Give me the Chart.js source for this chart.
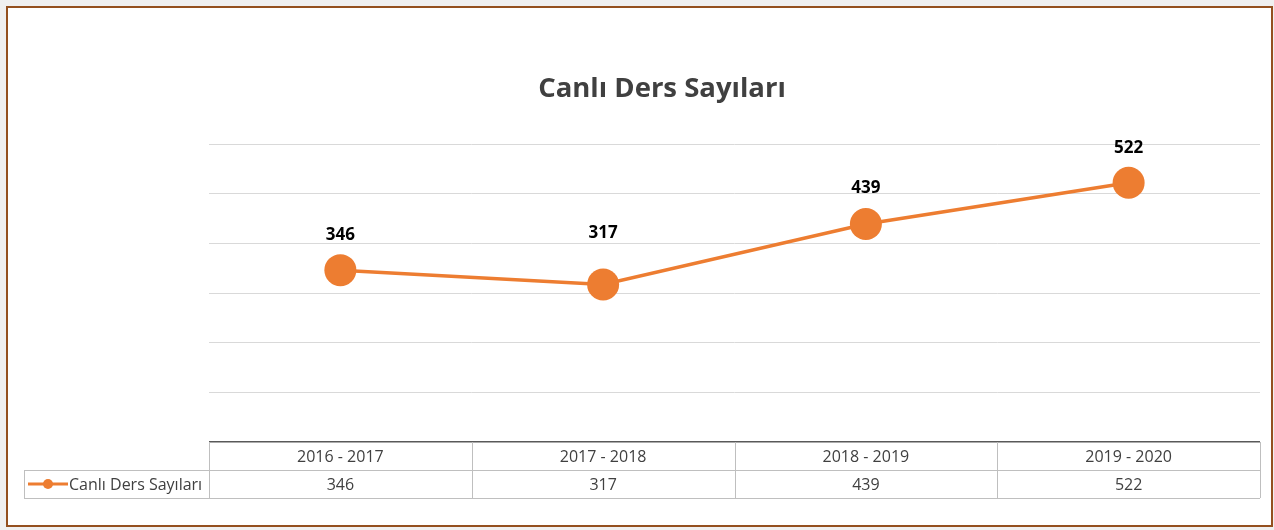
<!DOCTYPE html>
<html>
<head>
<meta charset="utf-8">
<script src="https://cdn.jsdelivr.net/npm/chart.js@4.4.0/dist/chart.umd.min.js"></script>
<style>
  html, body { margin: 0; padding: 0; background: #f0f0f0; }
  #frame {
    position: absolute; left: 6px; top: 6px;
    width: 1263px; height: 517px;
    border: 2px solid #94501f; background: #ffffff;
  }
  #myChart { display: block; }
</style>
</head>
<body>
<div id="frame"><canvas id="myChart" width="1263" height="517"></canvas></div>
<script>
var donemler = ["2016 - 2017", "2017 - 2018", "2018 - 2019", "2019 - 2020"];
var dersSayilari = [346, 317, 439, 522];
var seriAdi = "Canlı Ders Sayıları";
var baslik = "Canlı Ders Sayıları";
var turuncu = "#ED7D31";
var yaziFont = "'Open Sans', 'Noto Sans', sans-serif";
// etiketlerin noktanın ne kadar üstünde durduğu (px)
var etiketKaymasi = [35, 51, 36, 35];

// başlık, veri etiketleri ve alttaki veri tablosu
var tabloEklentisi = {
  id: "veriTablosu",
  afterDatasetsDraw: function (chart) {
    var ctx = chart.ctx;
    var meta = chart.getDatasetMeta(0);
    ctx.save();
    ctx.fillStyle = "#000000";
    ctx.font = "bold 17px " + yaziFont;
    ctx.textAlign = "center";
    ctx.textBaseline = "middle";
    meta.data.forEach(function (pt, i) {
      ctx.fillText(String(dersSayilari[i]), pt.x, pt.y - etiketKaymasi[i]);
    });
    ctx.fillStyle = "#404040";
    ctx.font = "bold 27.5px " + yaziFont;
    ctx.fillText(baslik, 654, 81);
    ctx.restore();
  },
  afterDraw: function (chart) {
    var ctx = chart.ctx;
    var area = chart.chartArea;
    var x = chart.scales.x;
    var n = donemler.length;
    var colW = (area.right - area.left) / n;
    var top = area.bottom;
    var rowH = 28;
    var legendLeft = 16;
    ctx.save();
    ctx.strokeStyle = "#bfbfbf";
    ctx.lineWidth = 1;
    ctx.beginPath();
    ctx.moveTo(legendLeft, top + rowH + 0.5);
    ctx.lineTo(area.right, top + rowH + 0.5);
    ctx.moveTo(legendLeft, top + 2 * rowH + 0.5);
    ctx.lineTo(area.right, top + 2 * rowH + 0.5);
    for (var i = 0; i <= n; i++) {
      var cx = Math.round(area.left + i * colW) + 0.5;
      ctx.moveTo(cx, top);
      ctx.lineTo(cx, top + 2 * rowH);
    }
    ctx.moveTo(legendLeft + 0.5, top + rowH);
    ctx.lineTo(legendLeft + 0.5, top + 2 * rowH);
    ctx.stroke();

    ctx.fillStyle = "#404040";
    ctx.font = "16px " + yaziFont;
    ctx.textAlign = "center";
    ctx.textBaseline = "middle";
    donemler.forEach(function (d, i) {
      var px = x.getPixelForValue(i);
      ctx.fillText(d, px, top + rowH / 2 + 1);
      ctx.fillText(String(dersSayilari[i]), px, top + rowH * 1.5 + 1);
    });

    // lejant anahtarı
    var ly = top + rowH * 1.5;
    ctx.strokeStyle = turuncu;
    ctx.lineWidth = 3;
    ctx.beginPath();
    ctx.moveTo(20, ly);
    ctx.lineTo(60, ly);
    ctx.stroke();
    ctx.fillStyle = turuncu;
    ctx.beginPath();
    ctx.arc(40, ly, 5, 0, Math.PI * 2);
    ctx.fill();
    ctx.fillStyle = "#404040";
    ctx.textAlign = "left";
    ctx.fillText(seriAdi, 61, ly + 1);
    ctx.restore();
  }
};

new Chart(document.getElementById("myChart"), {
  type: "line",
  data: {
    labels: donemler,
    datasets: [{
      label: seriAdi,
      data: dersSayilari,
      borderColor: turuncu,
      backgroundColor: turuncu,
      borderWidth: 3.5,
      pointRadius: 16,
      pointHoverRadius: 16,
      pointBackgroundColor: turuncu,
      pointBorderWidth: 0,
      tension: 0
    }]
  },
  plugins: [tabloEklentisi],
  options: {
    responsive: false,
    animation: false,
    layout: { autoPadding: false, padding: { left: 201, right: 11, top: 136, bottom: 83 } },
    plugins: {
      legend: { display: false },
      tooltip: { enabled: false },
      title: { display: false }
    },
    scales: {
      x: { display: false, offset: true },
      y: {
        min: 0, max: 600,
        ticks: { display: false, stepSize: 100 },
        border: { display: false },
        grid: {
          drawTicks: false,
          tickLength: 0,
          color: function (c) { return c.tick && c.tick.value === 0 ? "#595959" : "#d9d9d9"; },
          lineWidth: function (c) { return c.tick && c.tick.value === 0 ? 1.5 : 1; }
        }
      }
    }
  }
});
</script>
</body>
</html>
